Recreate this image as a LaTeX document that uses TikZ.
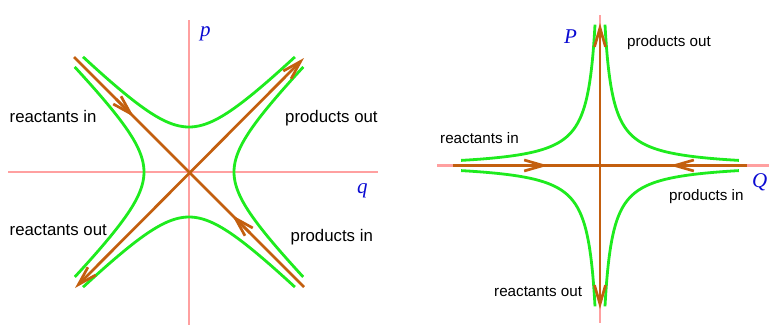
\documentclass[tikz,border=0pt]{standalone}
\usepackage{fontspec}
\setmainfont{Liberation Sans}
\newfontfamily\labelfont{Liberation Serif}
\usetikzlibrary{arrows.meta}
\definecolor{axispink}{RGB}{255,160,160}
\definecolor{curvegreen}{RGB}{30,235,30}
\definecolor{flowbrown}{RGB}{195,95,15}
\definecolor{labelblue}{RGB}{10,10,210}
\tikzset{
  axisline/.style={axispink, line width=2.6pt},
  curve/.style={curvegreen, line width=2.8pt, smooth},
  flow/.style={flowbrown, line width=2.7pt},
  barb/.tip={Straight Barb[length=19pt,width=11pt]},
  bigtxt/.style={font=\fontsize{16.8}{20}\selectfont, inner sep=0pt, anchor=base west},
  smalltxt/.style={font=\fontsize{15.2}{18}\selectfont, inner sep=0pt, anchor=base west},
  axislabel/.style={font=\fontsize{21}{24}\selectfont\labelfont\itshape, text=labelblue, inner sep=0pt, anchor=base west}
}
\begin{document}
\begin{tikzpicture}[x=1pt,y=-1pt]
\useasboundingbox (0,0) rectangle (769,325);
% ---------- left panel ----------
\coordinate (O1) at (189,172);
\draw[axisline] (189,20) -- (189,325);
\draw[axisline] (8,172) -- (378,172);
\draw[curve] plot[domain=-1.592:1.592,samples=60] ({189+45*sinh(\x)},{172-45*cosh(\x)});
\draw[curve] plot[domain=-1.592:1.592,samples=60] ({189+45*sinh(\x)},{172+45*cosh(\x)});
\draw[curve] plot[domain=-1.584:1.584,samples=60] ({189-45*cosh(\x)},{172+45*sinh(\x)});
\draw[curve] plot[domain=-1.584:1.584,samples=60] ({189+45*cosh(\x)},{172+45*sinh(\x)});
\coordinate (ulA) at (74,57);
\coordinate (lrA) at (304,287);
\coordinate (llA) at (75,288);
\coordinate (urA) at (304,58);
\draw[flow] (ulA) -- (lrA);
\draw[flow, barb-barb] (llA) -- (urA);
\draw[flow, -barb] (116,99) -- (134,117);
\draw[flow, -barb] (250,233) -- (232,215);
\node[axislabel] (p) at (200,36) {p};
\node[axislabel] (q) at (357,193) {q};
\node[bigtxt] (ri1) at (9.5,122) {reactants in};
\node[bigtxt] (po1) at (285,122) {products out};
\node[bigtxt] (ro1) at (9.5,235) {reactants out};
\node[bigtxt] (pi1) at (290.5,241.5) {products in};
% ---------- right panel ----------
\coordinate (O2) at (600,165.5);
\draw[axisline] (600,15) -- (600,323);
\draw[axisline] (437,165.5) -- (769,165.5);
\foreach \sx/\sy in {-1/-1,1/-1,1/1,-1/1}{
  \draw[curve] plot[domain=2.079:4.956,samples=70] ({600+\sx*(exp(\x)-3)},{165.5+\sy*(1150/exp(\x)-3)});
}
\coordinate (topB) at (600,23);
\coordinate (botB) at (600,309);
\coordinate (leftB) at (453,165.5);
\coordinate (rightB) at (747,165.5);
\draw[flow, barb-barb] (botB) -- (topB);
\draw[flow] (leftB) -- (rightB);
\draw[flow, -barb] (528,165.5) -- (548,165.5);
\draw[flow, -barb] (690,165.5) -- (670,165.5);
\node[axislabel] (P) at (564,43) {P};
\node[axislabel] (Q) at (752,187) {Q};
\node[smalltxt] (po2) at (627,46.5) {products out};
\node[smalltxt] (ri2) at (440,143) {reactants in};
\node[smalltxt] (pi2) at (669,200.5) {products in};
\node[smalltxt] (ro2) at (494,296) {reactants out};
\end{tikzpicture}
\end{document}
